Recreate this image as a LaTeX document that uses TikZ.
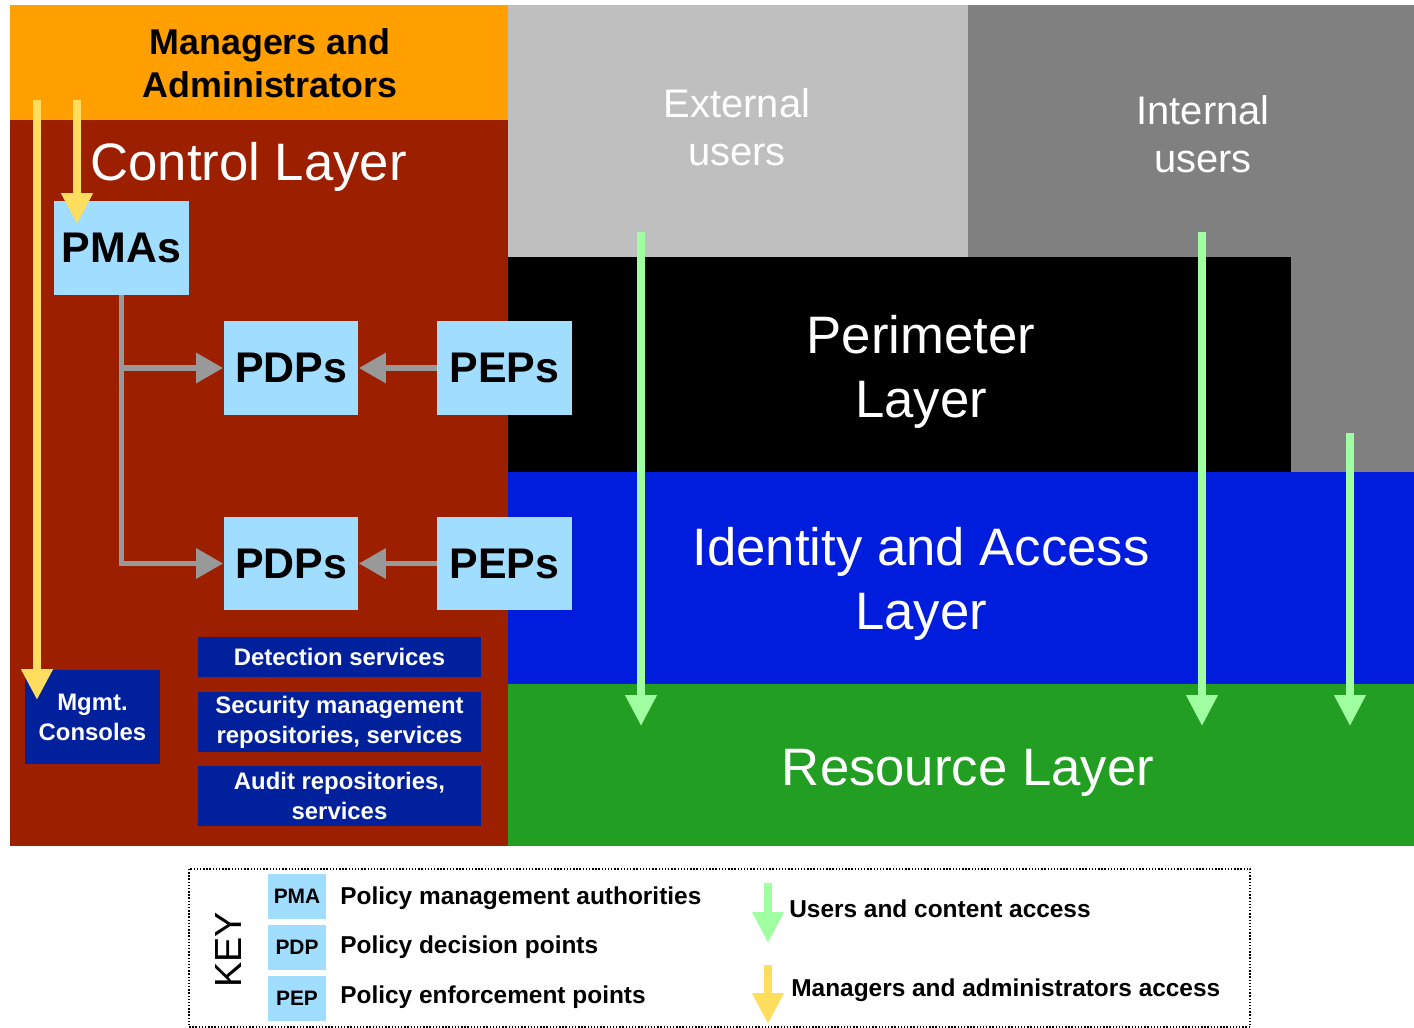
\documentclass[tikz,border=0pt]{standalone}
\usepackage{fontspec}
\setmainfont{Liberation Sans}
\usetikzlibrary{arrows.meta}

\definecolor{mgrorange}{HTML}{FF9F00}
\definecolor{ctrlred}{HTML}{9C1F00}
\definecolor{extgray}{HTML}{BFBFBF}
\definecolor{intgray}{HTML}{808080}
\definecolor{idblue}{HTML}{001CDC}
\definecolor{resgreen}{HTML}{229E22}
\definecolor{pblue}{HTML}{A0DDFF}
\definecolor{svcblue}{HTML}{00209C}
\definecolor{arrowgray}{HTML}{999999}
\definecolor{mgryellow}{HTML}{FFDD5E}
\definecolor{usergreen}{HTML}{A0FFA0}

\tikzset{
  layertext/.style={text=white,align=center,inner sep=0pt,font=\fontsize{30}{36.8}\selectfont},
  usertext/.style={text=white,align=center,inner sep=0pt,font=\fontsize{22.7}{27.2}\selectfont},
  pbox/.style={fill=pblue,minimum width=2.7cm,minimum height=1.88cm,inner sep=0pt,font=\bfseries\fontsize{24.4}{28}\selectfont},
  svcbox/.style={fill=svcblue,text=white,minimum width=5.66cm,inner sep=0pt,align=center,font=\bfseries\fontsize{13.6}{17}\selectfont},
  keybox/.style={fill=pblue,minimum width=1.16cm,minimum height=0.9cm,inner sep=0pt,font=\bfseries\fontsize{11.9}{14}\selectfont},
  keytext/.style={anchor=west,inner sep=0pt,font=\bfseries\fontsize{13.9}{16}\selectfont},
  grayline/.style={draw=arrowgray,line width=3.4pt},
  grayarrow/.style={grayline,-{Triangle[width=0.58cm,length=0.54cm]}},
  yellowarrow/.style={draw=mgryellow,line width=4.4pt,-{Triangle[width=0.6cm,length=0.62cm]}},
  greenarrow/.style={draw=usergreen,line width=4pt,-{Triangle[width=0.6cm,length=0.62cm]}},
}

\begin{document}
\begin{tikzpicture}[x=0.02cm,y=-0.02cm]
	\useasboundingbox (0,0) rectangle (1414,1028);

	% layer areas
	\fill[mgrorange] (10,5) rectangle (508,120);
	\fill[ctrlred] (10,120) rectangle (508,846);
	\fill[extgray] (508,5) rectangle (968,257);
	\fill[intgray] (968,5) rectangle (1414,472);
	\fill[black] (508,257) rectangle (1291,472);
	\fill[idblue] (508,472) rectangle (1414,684);
	\fill[resgreen] (508,684) rectangle (1414,846);

	% layer titles
	\node[align=center,inner sep=0pt,font=\bfseries\fontsize{20.4}{24.4}\selectfont] (mgrs) at (270,63) {Managers and\\Administrators};
	\node[text=white,anchor=base west,inner sep=0pt,font=\fontsize{30}{36}\selectfont] (ctrl) at (90,180) {Control Layer};
	\node[usertext] (ext) at (737,127) {External\\users};
	\node[usertext] (int) at (1203,134) {Internal\\users};
	\node[layertext] (perim) at (921,372) {Perimeter\\Layer};
	\node[layertext] (ident) at (921,584) {Identity and Access\\Layer};
	\node[layertext] (res) at (968,773) {Resource Layer};

	% policy points
	\node[pbox] (pmas) at (121.5,248) {PMAs};
	\node[pbox] (pdpa) at (291,368) {PDPs};
	\node[pbox] (pepa) at (504.5,368) {PEPs};
	\node[pbox] (pdpb) at (291,563.5) {PDPs};
	\node[pbox] (pepb) at (504.5,563.5) {PEPs};

	\draw[grayline] (pmas.south) -- (pmas.south |- pdpa.west);
	\draw[grayarrow] (pmas.south |- pdpa.west) -- (pdpa.west);
	\draw[grayarrow] (pmas.south |- pdpa.west) -- (pmas.south |- pdpb.west) -- (pdpb.west);
	\draw[grayarrow] (pepa) -- (pdpa);
	\draw[grayarrow] (pepb) -- (pdpb);

	% services
	\node[svcbox,minimum width=2.7cm,minimum height=1.88cm] (mgmt) at (92.5,717) {Mgmt.\\Consoles};
	\node[svcbox,minimum height=0.8cm] (detect) at (339.5,657) {Detection services};
	\node[svcbox,minimum height=1.2cm] (secmgmt) at (339.5,722) {Security management\\repositories, services};
	\node[svcbox,minimum height=1.2cm] (audit) at (339.5,796) {Audit repositories,\\services};

	% managers access
	\coordinate (ya) at (37,100);
	\coordinate (yaend) at (37,700);
	\coordinate (yb) at (77,100);
	\coordinate (ybend) at (77,224);
	\draw[yellowarrow] (ya) -- (yaend);
	\draw[yellowarrow] (yb) -- (ybend);

	% users access
	\coordinate (ga) at (641,232);
	\coordinate (gaend) at (641,726);
	\coordinate (gb) at (1202,232);
	\coordinate (gbend) at (1202,726);
	\coordinate (gc) at (1350,433);
	\coordinate (gcend) at (1350,726);
	\draw[greenarrow] (ga) -- (gaend);
	\draw[greenarrow] (gb) -- (gbend);
	\draw[greenarrow] (gc) -- (gcend);

	% key
	\draw[densely dotted,line width=0.8pt] (189,869) rectangle (1250,1027);
	\node[rotate=90,inner sep=0pt,font=\fontsize{21.5}{24}\selectfont] (key) at (229,950) {KEY};
	\node[keybox] (kpma) at (297,896.5) {PMA};
	\node[keybox] (kpdp) at (297,947) {PDP};
	\node[keybox] (kpep) at (297,998.5) {PEP};
	\node[keytext] (lpma) at (340,898) {Policy management authorities};
	\node[keytext] (lpdp) at (340,947) {Policy decision points};
	\node[keytext] (lpep) at (340,997) {Policy enforcement points};

	\coordinate (kg) at (768,883);
	\coordinate (kgend) at (768,943);
	\coordinate (ky) at (768,965);
	\coordinate (kyend) at (768,1024);
	\draw[greenarrow] (kg) -- (kgend);
	\draw[yellowarrow] (ky) -- (kyend);
	\node[keytext] (lusers) at (789,909) {Users and content access};
	\node[keytext] (lmgrs) at (791,990) {Managers and administrators access};
\end{tikzpicture}
\end{document}
